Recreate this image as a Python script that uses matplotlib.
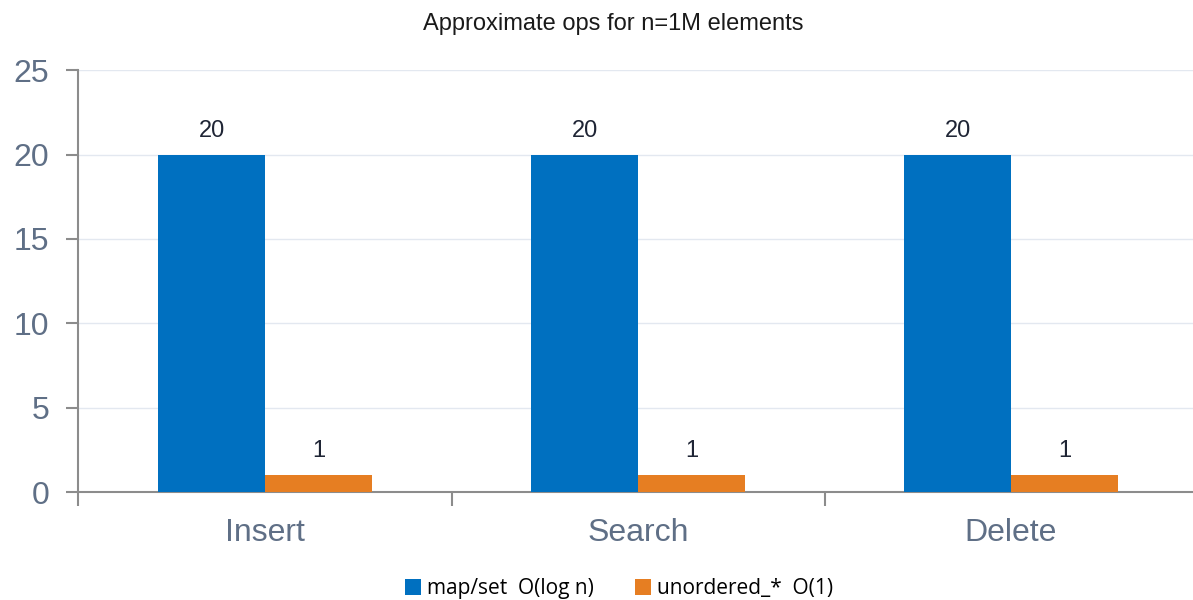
import numpy as np
import matplotlib.pyplot as plt

# Data
categories = ['Insert', 'Search', 'Delete']
map_set = [20, 20, 20]
unordered = [1, 1, 1]
series_names = ['map/set  O(log n)', 'unordered_*  O(1)']

blue = '#0070C0'
orange = '#E67E22'
axis_grey = '#8C8C8C'
label_col = '#5F6F86'

plt.rcParams['font.family'] = ['Liberation Sans', 'DejaVu Sans']

fig = plt.figure(figsize=(11.93, 6), dpi=100)
# the plot area runs a little past the right edge of the picture
ax = fig.add_axes([0.0658, 0.18, 0.938, 0.703])

x = np.arange(len(categories))
w = 0.286
b1 = ax.bar(x - w / 2, map_set, w, color=blue, label=series_names[0], zorder=3)
b2 = ax.bar(x + w / 2, unordered, w, color=orange, label=series_names[1], zorder=3)

for bars in (b1, b2):
    for r in bars:
        ax.text(r.get_x() + r.get_width() / 2, r.get_height() + 0.75, f'{r.get_height():g}',
                ha='center', va='bottom', fontsize=17, color='#1f2535')

ax.set_xlim(-0.5, 2.5)
ax.set_ylim(0, 25)
ax.set_yticks(range(0, 26, 5))
ax.yaxis.grid(True, color='#E3E8F0', linewidth=1, zorder=0)

ax.set_xticks(x)
ax.set_xticklabels(categories)
ax.set_xticks([-0.5, 0.5, 1.5, 2.5], minor=True)
ax.tick_params(axis='x', which='major', length=0, pad=19, labelsize=23, labelcolor=label_col)
ax.tick_params(axis='x', which='minor', length=10, width=1.5, color=axis_grey, direction='out')
ax.tick_params(axis='y', length=9, width=1.5, color=axis_grey, pad=12, labelsize=23, labelcolor=label_col)

for s in ['top', 'right']:
    ax.spines[s].set_visible(False)
for s in ['left', 'bottom']:
    ax.spines[s].set_color(axis_grey)
    ax.spines[s].set_linewidth(1.5)

fig.text(0.514, 0.978, 'Approximate ops for n=1M elements', ha='center', va='top',
         fontsize=17, color='#1a1a1a')

fig.legend(loc='lower center', bbox_to_anchor=(0.519, -0.03), ncol=2, frameon=False,
           handlelength=0.75, handleheight=0.75, handletextpad=0.3, columnspacing=2.0,
           prop={'family': 'Open Sans', 'size': 15})

fig.savefig('out.png', dpi=100)
